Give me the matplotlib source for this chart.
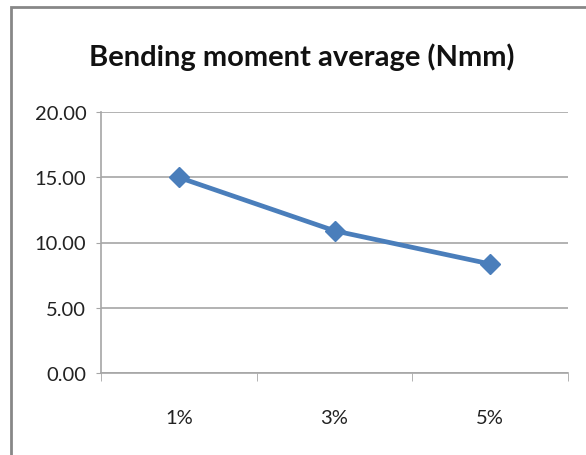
import matplotlib.pyplot as plt
from matplotlib.patches import Rectangle

# datos
categorias = ["1%", "3%", "5%"]
valores = [15.0, 10.9, 8.35]
y_ticks = [0, 5, 10, 15, 20]

plt.rcParams['font.family'] = ['Lato', 'DejaVu Sans']

fig = plt.figure(figsize=(5.86, 4.56), dpi=100)

# borde del area del grafico (recortado a la derecha y abajo)
fig.patches.append(Rectangle((11 / 586, -0.05), 1.0, 1 - 8 / 456 + 0.05,
                             transform=fig.transFigure, fill=False,
                             edgecolor="#878787", linewidth=2))

ax = fig.add_axes([101 / 586, (456 - 373.7) / 456, 467 / 586, 260.4 / 456])

x = range(len(categorias))
ax.plot(x, valores, color="#4A7EBB", linewidth=3.4, marker="D",
        markersize=10, zorder=3)

ax.set_ylim(0, 20)
ax.set_yticks(y_ticks)
ax.set_yticklabels([f"{v:.2f}" for v in y_ticks])
ax.set_xlim(-0.5, len(categorias) - 0.5)
ax.set_xticks(list(x))
ax.set_xticklabels(categorias)
ax.set_xticks([i - 0.5 for i in range(len(categorias) + 1)], minor=True)

ax.grid(axis="y", color="#A6A6A6", linewidth=1.2)
ax.set_axisbelow(True)
for lado in ["top", "right"]:
    ax.spines[lado].set_visible(False)
for lado in ["left", "bottom"]:
    ax.spines[lado].set_color("#A6A6A6")
    ax.spines[lado].set_linewidth(1.2)

ax.tick_params(axis="y", length=3.6, color="#A6A6A6", labelsize=14.5, pad=7,
               labelcolor="#222222")
ax.tick_params(axis="x", which="major", length=0, labelsize=14.5, pad=26,
               labelcolor="#222222")
ax.tick_params(axis="x", which="minor", length=6, color="#A6A6A6")

fig.text(0.515, 1 - 57 / 456, "Bending moment average (Nmm)", ha="center",
         va="center", fontsize=21, fontweight="bold", color="#111111")

fig.savefig("out.png", dpi=100)
